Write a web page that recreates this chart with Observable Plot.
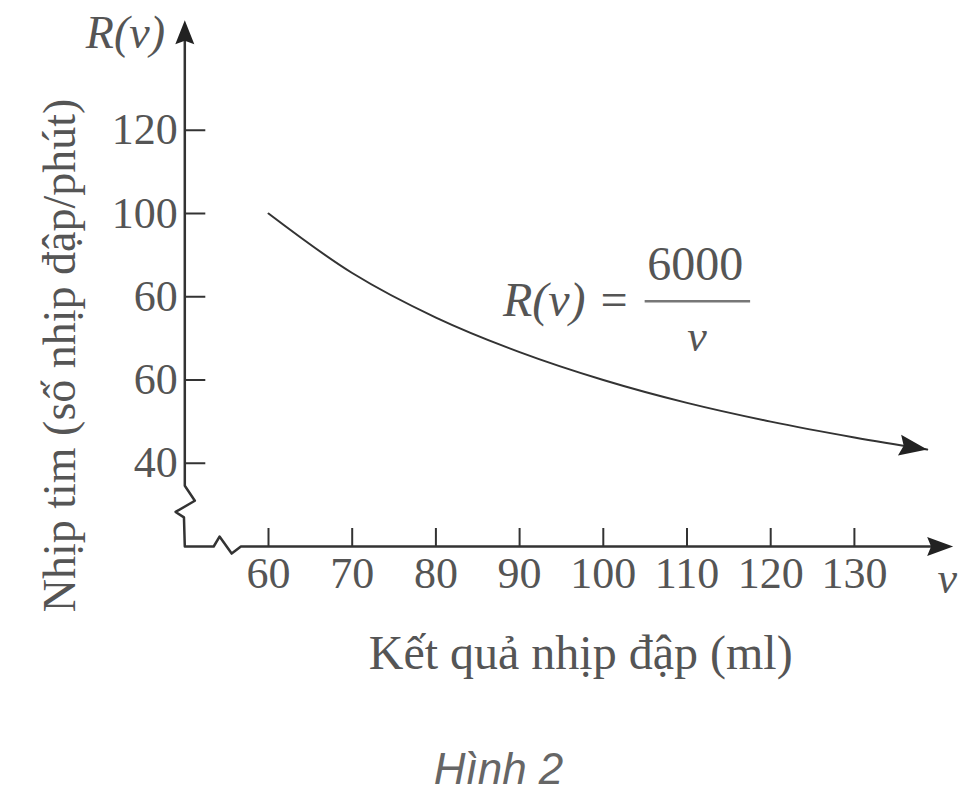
<!DOCTYPE html>
<html>
<head>
<meta charset="utf-8">
<script src="https://cdn.jsdelivr.net/npm/d3@7"></script>
<script src="https://cdn.jsdelivr.net/npm/@observablehq/plot@0.6"></script>
<style>
  html, body { margin: 0; padding: 0; background: #fff; }
  #chart svg { display: block; }
  #caption { width: 975px; text-align: center; margin-top: 44px; padding-left: 22px; box-sizing: border-box;
    font-family: "Liberation Sans", sans-serif; font-style: italic; font-size: 44px; line-height: 50px; color: #666; }
</style>
</head>
<body>
<div id="chart"></div>
<div id="caption">Hình 2</div>
<script>
// Data (heart rate R vs. stroke volume v)
const vValues = [60, 70, 80, 90, 100, 110, 120, 130, 138.7];
const rValues = [100, 85.7, 75, 66.7, 60, 54.5, 50, 46.2, 43.3];
const xTicks = [60, 70, 80, 90, 100, 110, 120, 130];
const yTicks = [40, 60, 80, 100, 120];
const yTickLabels = ["40", "60", "60", "100", "120"];

// Axis line with break marks (in data units)
const axisV = [50, 50, 51.2, 48.9, 49.9, 50, 53.45, 54.15, 55.6, 56.7, 141];
const axisR = [145, 34.6, 31.0, 28.3, 27.0, 20, 20, 22.4, 18.3, 20, 20];

const curve = vValues.map((v, i) => ({v, R: rValues[i]}));
const axisPath = axisV.map((v, i) => ({v, R: axisR[i]}));
const yLabelMap = new Map(yTicks.map((t, i) => [t, yTickLabels[i]]));

function arrowSymbol(angleDeg, len, half) {
  const a = angleDeg * Math.PI / 180, c = Math.cos(a), s = Math.sin(a);
  const rot = (x, y) => [x * c - y * s, x * s + y * c];
  return {
    draw(ctx) {
      const p0 = rot(0, 0), p1 = rot(-len, -half), p2 = rot(-len * 0.85, 0), p3 = rot(-len, half);
      ctx.moveTo(...p0); ctx.lineTo(...p1); ctx.lineTo(...p2); ctx.lineTo(...p3); ctx.closePath();
    }
  };
}

const serif = "'Liberation Serif', 'DejaVu Serif', serif";
const textFill = "#555";
const lineColor = "#333";

const plot = Plot.plot({
  width: 975,
  height: 700,
  marginTop: 46.5,
  marginBottom: 154,
  marginLeft: 184.3,
  marginRight: 37.4,
  style: {fontFamily: serif, color: lineColor, background: "#fff", overflow: "visible"},
  x: {domain: [50, 140], axis: null, label: null},
  y: {domain: [20, 140], axis: null, label: null},
  marks: [
    // axis lines with break zigzags
    Plot.line(axisPath, {x: "v", y: "R", stroke: lineColor, strokeWidth: 2.5, clip: false}),
    // axis arrowheads
    Plot.dot([{v: 50, R: 146.4}], {x: "v", y: "R", symbol: arrowSymbol(-90, 24, 9.5), fill: "#222", stroke: "none", r: 10}),
    Plot.dot([{v: 141.8, R: 20}], {x: "v", y: "R", symbol: arrowSymbol(0, 26, 9.5), fill: "#222", stroke: "none", r: 10}),
    // ticks (pointing inward)
    Plot.axisX(xTicks, {anchor: "bottom", label: null, tickSize: -18, tickFormat: () => "", stroke: lineColor, strokeWidth: 2}),
    Plot.axisY(yTicks, {anchor: "left", label: null, tickSize: -21, tickFormat: () => "", stroke: lineColor, strokeWidth: 2}),
    // tick labels
    Plot.axisX(xTicks, {anchor: "bottom", label: null, tickSize: 0, tickPadding: 10, fontSize: 44, fill: textFill, fontFamily: serif}),
    Plot.axisY(yTicks, {anchor: "left", label: null, tickSize: 0, tickPadding: 7, fontSize: 44, fill: textFill, fontFamily: serif,
      tickFormat: d => yLabelMap.get(d)}),
    // the curve R(v) = 6000 / v
    Plot.line(curve, {x: "v", y: "R", curve: "catmull-rom", stroke: lineColor, strokeWidth: 2}),
    Plot.dot([curve[curve.length - 1]], {x: "v", y: "R", symbol: arrowSymbol(8.8, 28, 10.5), fill: "#222", stroke: "none", r: 10}),
    // formula annotation
    Plot.text(["R(v) ="], {x: 95.6, y: 79.1, text: d => d, fontSize: 48, fontStyle: "italic", fill: textFill}),
    Plot.text(["6000"], {x: 111.0, y: 87.8, text: d => d, fontSize: 48, fill: textFill}),
    Plot.ruleY([78.9], {x1: 105.0, x2: 117.6, stroke: "#777", strokeWidth: 2.5}),
    Plot.text(["v"], {x: 111.2, y: 70.4, text: d => d, fontSize: 44, fontStyle: "italic", fill: textFill}),
    // axis names
    Plot.text(["R(v)"], {x: 42.9, y: 143.4, text: d => d, fontSize: 46, fontStyle: "italic", fill: textFill}),
    Plot.text(["v"], {x: 141.1, y: 12.1, text: d => d, fontSize: 44, fontStyle: "italic", fill: textFill}),
    Plot.text(["Nhịp tim (số nhịp đập/phút)"], {x: 35.1, y: 65.9, text: d => d, rotate: -90, fontSize: 46, fill: textFill}),
    Plot.text(["Kết quả nhịp đập (ml)"], {x: 97.3, y: -5.7, text: d => d, fontSize: 48, fill: textFill})
  ]
});
document.getElementById("chart").appendChild(plot);
</script>
</body>
</html>
